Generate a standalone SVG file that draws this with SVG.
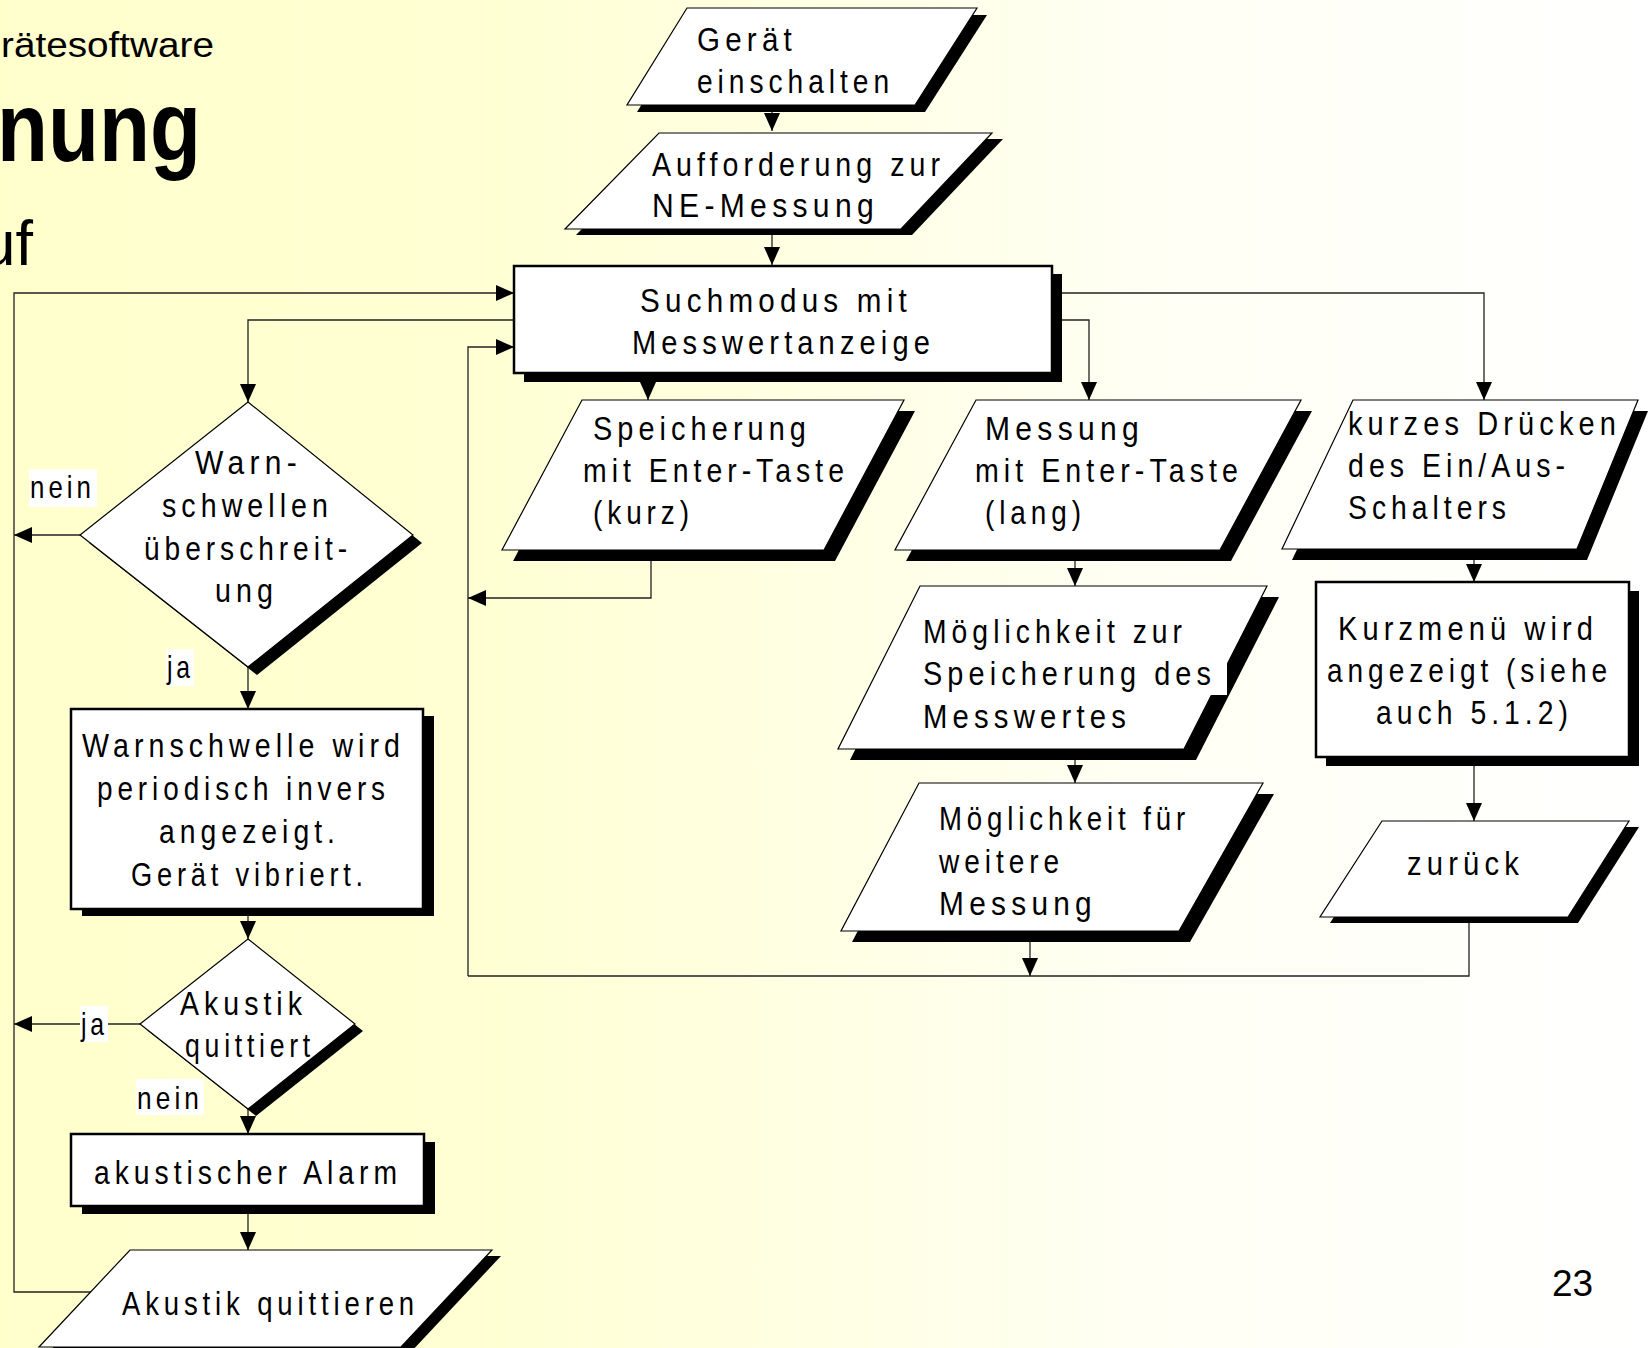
<svg xmlns="http://www.w3.org/2000/svg" width="1649" height="1348" viewBox="0 0 1649 1348">
<defs>
<linearGradient id="bg" x1="0" y1="0" x2="1649" y2="0" gradientUnits="userSpaceOnUse">
<stop offset="0" stop-color="#FFFFCC"/>
<stop offset="0.3" stop-color="#FFFFD4"/>
<stop offset="0.7" stop-color="#FFFFF4"/>
<stop offset="1" stop-color="#FFFFFF"/>
</linearGradient>
<marker id="ah" markerUnits="userSpaceOnUse" markerWidth="18" markerHeight="16" refX="18" refY="8" orient="auto" viewBox="0 0 18 16">
<path d="M0,0 L18,8 L0,16 z" fill="#000"/>
</marker>
<style>
.para{fill:#fff;stroke:#000;stroke-width:1.2}
.dia{fill:#fff;stroke:#000;stroke-width:1.2}
.box{fill:#fff;stroke:#000;stroke-width:2.5}
.sh{fill:#000}
.wbg{fill:#fff}
.conn{fill:none;stroke:#222;stroke-width:1.3;marker-end:url(#ah)}
.line{fill:none;stroke:#222;stroke-width:1.3}
.t{font-family:"Liberation Sans",Arial,sans-serif;font-size:34px;letter-spacing:6px;fill:#000}
.lbl{font-family:"Liberation Sans",Arial,sans-serif;font-size:32px;letter-spacing:5px;fill:#000}
.hd{font-family:"Liberation Sans",Arial,sans-serif;fill:#000}
</style>
</defs>
<rect x="0" y="0" width="1649" height="1348" fill="url(#bg)"/>

<g id="title">
<text class="hd" x="1" y="57" font-size="35" textLength="213" lengthAdjust="spacingAndGlyphs">rätesoftware</text>
<text class="hd" x="-3" y="161" font-size="98" font-weight="bold" textLength="204" lengthAdjust="spacingAndGlyphs">nung</text>
<text class="hd" x="33" y="265" font-size="63" text-anchor="end">uf</text>
<text class="hd" x="1552" y="1296" font-size="37">23</text>
</g>

<g id="connectors">
<path class="conn" d="M772,105 V131"/>
<path class="conn" d="M772,229 V265"/>
<path class="conn" d="M648,373 V400"/>
<path class="conn" d="M1052,320 H1089 V400"/>
<path class="conn" d="M1052,293 H1484 V400"/>
<path class="conn" d="M514,320 H248 V402"/>
<path class="conn" d="M80,535 H14"/>
<path class="conn" d="M248,667 V709"/>
<path class="conn" d="M248,909 V939"/>
<path class="conn" d="M140,1024 H14"/>
<path class="conn" d="M248,1109 V1134"/>
<path class="conn" d="M248,1206 V1250"/>
<path class="conn" d="M91,1292 H14 V293 H514"/>
<path class="conn" d="M651,550 V598 H468"/>
<path class="conn" d="M468,976 V347 H514"/>
<path class="conn" d="M1075,549 V586"/>
<path class="conn" d="M1075,749 V783"/>
<path class="conn" d="M1030,931 V976"/>
<path class="conn" d="M1474,549 V582"/>
<path class="conn" d="M1474,757 V821"/>
<path class="line" d="M1469,917 V976 H468"/>
</g>

<g id="labels">
<rect class="wbg" x="29" y="469" width="68" height="38"/>
<text class="lbl" x="30" y="498" textLength="65" lengthAdjust="spacingAndGlyphs">nein</text>
<rect class="wbg" x="166" y="649" width="28" height="37"/>
<text class="lbl" x="167" y="678" textLength="27" lengthAdjust="spacingAndGlyphs">ja</text>
<rect class="wbg" x="80" y="1006" width="28" height="36"/>
<text class="lbl" x="81" y="1035" textLength="27" lengthAdjust="spacingAndGlyphs">ja</text>
<rect class="wbg" x="136" y="1079" width="68" height="36"/>
<text class="lbl" x="137" y="1109" textLength="66" lengthAdjust="spacingAndGlyphs">nein</text>
</g>

<g id="n-geraet">
<polygon class="sh" points="697,15 987,15 925,112 637,112"/>
<polygon class="para" points="687,8 977,8 915,105 627,105"/>
<text class="t" x="697" y="51" textLength="100" lengthAdjust="spacingAndGlyphs">Gerät</text>
<text class="t" x="697" y="93" textLength="197" lengthAdjust="spacingAndGlyphs">einschalten</text>
</g>

<g id="n-aufforderung">
<polygon class="sh" points="670,139 1003,139 912,235 576,235"/>
<polygon class="para" points="659,133 992,133 901,229 565,229"/>
<text class="t" x="652" y="176" textLength="293" lengthAdjust="spacingAndGlyphs">Aufforderung zur</text>
<text class="t" x="652" y="217" textLength="227" lengthAdjust="spacingAndGlyphs">NE-Messung</text>
</g>

<g id="n-suchmodus">
<rect class="sh" x="524" y="274" width="538" height="108"/>
<rect class="box" x="514" y="266" width="538" height="107"/>
<text class="t" x="640" y="312" textLength="272" lengthAdjust="spacingAndGlyphs">Suchmodus mit</text>
<text class="t" x="632" y="354" textLength="303" lengthAdjust="spacingAndGlyphs">Messwertanzeige</text>
</g>

<g id="n-speicherung">
<polygon class="sh" points="593,411 915,411 835,561 513,561"/>
<polygon class="para" points="582,400 904,400 824,550 502,550"/>
<text class="t" x="593" y="440" textLength="218" lengthAdjust="spacingAndGlyphs">Speicherung</text>
<text class="t" x="583" y="482" textLength="266" lengthAdjust="spacingAndGlyphs">mit Enter-Taste</text>
<text class="t" x="593" y="524" textLength="101" lengthAdjust="spacingAndGlyphs">(kurz)</text>
</g>

<g id="n-messung">
<polygon class="sh" points="987,411 1312,411 1231,561 906,561"/>
<polygon class="para" points="976,400 1301,400 1220,550 895,550"/>
<text class="t" x="985" y="440" textLength="159" lengthAdjust="spacingAndGlyphs">Messung</text>
<text class="t" x="975" y="482" textLength="268" lengthAdjust="spacingAndGlyphs">mit Enter-Taste</text>
<text class="t" x="985" y="524" textLength="101" lengthAdjust="spacingAndGlyphs">(lang)</text>
</g>

<g id="n-kurzes">
<polygon class="sh" points="1363,411 1648,411 1587,560 1292,560"/>
<polygon class="para" points="1353,400 1638,400 1577,549 1282,549"/>
<text class="t" x="1348" y="435" textLength="273" lengthAdjust="spacingAndGlyphs">kurzes Drücken</text>
<text class="t" x="1348" y="477" textLength="222" lengthAdjust="spacingAndGlyphs">des Ein/Aus-</text>
<text class="t" x="1348" y="519" textLength="163" lengthAdjust="spacingAndGlyphs">Schalters</text>
</g>

<g id="n-warnschwellen">
<polygon class="sh" points="257,410 422,543 257,675 89,543"/>
<polygon class="dia" points="248,402 413,535 248,667 80,535"/>
<text class="t" x="195" y="474" textLength="107" lengthAdjust="spacingAndGlyphs">Warn-</text>
<text class="t" x="162" y="517" textLength="171" lengthAdjust="spacingAndGlyphs">schwellen</text>
<text class="t" x="144" y="560" textLength="208" lengthAdjust="spacingAndGlyphs">überschreit-</text>
<text class="t" x="215" y="602" textLength="63" lengthAdjust="spacingAndGlyphs">ung</text>
</g>

<g id="n-warnschwelle-invers">
<rect class="sh" x="82" y="716" width="352" height="200"/>
<rect class="box" x="71" y="709" width="352" height="200"/>
<text class="t" x="82" y="757" textLength="323" lengthAdjust="spacingAndGlyphs">Warnschwelle wird</text>
<text class="t" x="97" y="800" textLength="293" lengthAdjust="spacingAndGlyphs">periodisch invers</text>
<text class="t" x="159" y="843" textLength="181" lengthAdjust="spacingAndGlyphs">angezeigt.</text>
<text class="t" x="131" y="886" textLength="237" lengthAdjust="spacingAndGlyphs">Gerät vibriert.</text>
</g>

<g id="n-akustik-quittiert">
<polygon class="sh" points="256,946 363,1031 256,1116 148,1031"/>
<polygon class="dia" points="248,939 355,1024 248,1109 140,1024"/>
<text class="t" x="180" y="1015" textLength="127" lengthAdjust="spacingAndGlyphs">Akustik</text>
<text class="t" x="185" y="1057" textLength="130" lengthAdjust="spacingAndGlyphs">quittiert</text>
</g>

<g id="n-alarm">
<rect class="sh" x="82" y="1142" width="353" height="72"/>
<rect class="box" x="71" y="1134" width="353" height="72"/>
<text class="t" x="94" y="1184" textLength="308" lengthAdjust="spacingAndGlyphs">akustischer Alarm</text>
</g>

<g id="n-akustik-quittieren">
<polygon class="sh" points="139,1256 501,1256 410,1353 48,1353"/>
<polygon class="para" points="130,1250 492,1250 401,1347 39,1347"/>
<text class="t" x="122" y="1315" textLength="297" lengthAdjust="spacingAndGlyphs">Akustik quittieren</text>
</g>

<g id="n-moeglichkeit-speicherung">
<polygon class="sh" points="932,597 1279,597 1196,760 850,760"/>
<polygon class="para" points="920,586 1267,586 1184,749 838,749"/>
<rect class="wbg" x="1100" y="657" width="127" height="38"/>
<text class="t" x="923" y="643" textLength="264" lengthAdjust="spacingAndGlyphs">Möglichkeit zur</text>
<text class="t" x="923" y="685" textLength="293" lengthAdjust="spacingAndGlyphs">Speicherung des</text>
<text class="t" x="923" y="728" textLength="208" lengthAdjust="spacingAndGlyphs">Messwertes</text>
</g>

<g id="n-moeglichkeit-messung">
<polygon class="sh" points="930,794 1274,794 1190,942 852,942"/>
<polygon class="para" points="919,783 1263,783 1179,931 841,931"/>
<text class="t" x="939" y="830" textLength="251" lengthAdjust="spacingAndGlyphs">Möglichkeit für</text>
<text class="t" x="939" y="873" textLength="125" lengthAdjust="spacingAndGlyphs">weitere</text>
<text class="t" x="939" y="915" textLength="158" lengthAdjust="spacingAndGlyphs">Messung</text>
</g>

<g id="n-kurzmenue">
<rect class="sh" x="1326" y="591" width="313" height="175"/>
<rect class="box" x="1316" y="582" width="313" height="175"/>
<text class="t" x="1338" y="640" textLength="260" lengthAdjust="spacingAndGlyphs">Kurzmenü wird</text>
<text class="t" x="1327" y="682" textLength="285" lengthAdjust="spacingAndGlyphs">angezeigt (siehe</text>
<text class="t" x="1376" y="724" textLength="197" lengthAdjust="spacingAndGlyphs">auch 5.1.2)</text>
</g>

<g id="n-zurueck">
<polygon class="sh" points="1392,827 1639,827 1578,923 1330,923"/>
<polygon class="para" points="1382,821 1629,821 1568,917 1320,917"/>
<text class="t" x="1407" y="875" textLength="117" lengthAdjust="spacingAndGlyphs">zurück</text>
</g>
</svg>
